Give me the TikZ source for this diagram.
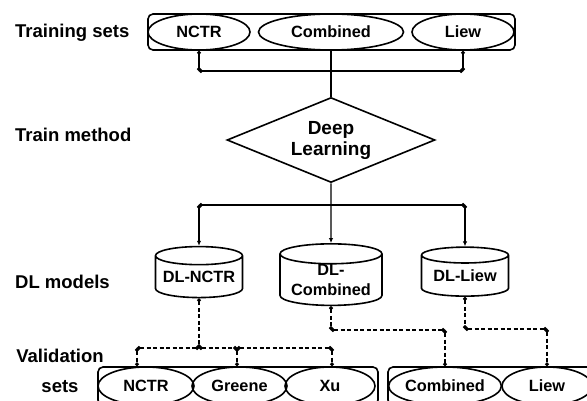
\documentclass[tikz,border=0pt]{standalone}
\usepackage{fontspec}
\setmainfont{Liberation Sans}
\usepackage{tikz}
\usetikzlibrary{arrows.meta, shapes.geometric, calc}
\tikzset{
  lbl/.style={anchor=base west, inner sep=0pt,
    font=\fontsize{18.5}{22}\selectfont\bfseries},
  setbox/.style={draw, rounded corners=5pt, line width=1.6pt, inner sep=0pt},
  setell/.style={ellipse, draw, line width=1.6pt, inner sep=0pt,
    minimum height=36pt, font=\fontsize{16.3}{19}\selectfont\bfseries},
  dlcyl/.style={cylinder, shape border rotate=90, draw, aspect=0.25,
    line width=1.6pt, inner sep=0pt, align=center,
    font=\fontsize{16.3}{19.5}\selectfont\bfseries},
  method/.style={diamond, draw, aspect=2.45, line width=1.6pt,
    inner sep=0pt, minimum width=208pt, minimum height=85pt, align=center,
    font=\fontsize{19}{21}\selectfont\bfseries},
  dotline/.style={line width=1.4pt,
    {Circle[length=3.8pt]}-{Circle[length=3.8pt]}},
  dotarr/.style={line width=1.4pt,
    {Circle[length=3.8pt]}-{Latex[length=5pt,width=4.5pt]}},
  dashline/.style={dotline, dashed, dash pattern=on 4pt off 2.5pt}
}
\begin{document}
\begin{tikzpicture}[x=1pt, y=-1pt]
  \useasboundingbox (0,0) rectangle (587,401);
  \clip (0,0) rectangle (587,401);
  % row labels
  \node[lbl] (ltrain) at (15,38)  {Training sets};
  \node[lbl] (lmeth)  at (15,142) {Train method};
  \node[lbl] (lmodel) at (15,288) {DL models};
  \node[lbl, anchor=base, align=center,
        font=\fontsize{18.5}{30}\selectfont\bfseries] (lval) at (60,392) {Validation\\sets};
  % training sets
  \node[setbox, minimum width=367pt, minimum height=36pt] (trainbox) at (331.5,32) {};
  \node[setell, minimum width=102pt] (nctr) at (199,32) {NCTR};
  \node[setell, minimum width=145pt] (comb) at (331,32) {Combined};
  \node[setell, minimum width=102pt] (liew) at (463,32) {Liew};
  % train method
  \node[method] (deep) at (331,140) {Deep\\Learning};
  % models
  \node[dlcyl, minimum width=87pt, minimum height=51pt] (dlnctr) at (199,277) {DL-NCTR};
  \node[dlcyl, minimum width=102pt, minimum height=60pt] (dlcomb) at (331,280) {DL-\\Combined};
  \node[dlcyl, minimum width=87pt, minimum height=49pt] (dlliew) at (465,276) {DL-Liew};
  % validation sets
  \node[setbox, minimum width=280pt, minimum height=38pt] (valbox) at (238,386) {};
  \node[setbox, minimum width=222pt, minimum height=38pt] (valboxb) at (499,386) {};
  \node[setell, minimum width=96pt, minimum height=38pt] (vnctr) at (146,386) {NCTR};
  \node[setell, minimum width=95pt, minimum height=38pt] (vgreene) at (239.5,386) {Greene};
  \node[setell, minimum width=90pt, minimum height=38pt] (vxu) at (330,386) {Xu};
  \node[setell, minimum width=110pt, minimum height=38pt] (vcomb) at (445,386) {Combined};
  \node[setell, minimum width=90pt, minimum height=38pt] (vliew) at (547,386) {Liew};
  % training sets -> method
  \coordinate (jtl) at (nctr.south |- 0,71);
  \coordinate (jtr) at (liew.south |- 0,71);
  \draw[dotline](nctr.south)--(jtl); \draw[dotline](liew.south)--(jtr);
  \draw[dotline](jtl)--(jtr);
  \draw[line width=1.4pt](comb.south)--(deep.north);
  % method -> models
  \coordinate (jml) at (dlnctr.north |- 0,205);
  \coordinate (jmr) at (dlliew.north |- 0,205);
  \draw[dotline](jml)--(jmr);
  \draw[line width=1.4pt, -{Latex[length=5pt,width=4.5pt]}](deep.south)--(dlcomb.north);
  \draw[dotarr](jml)--(dlnctr.north); \draw[dotarr](jmr)--(dlliew.north);
  % models -> validation sets
  \coordinate (jbm) at (dlnctr.south |- 0,348);
  \coordinate (jba) at (137,348);
  \coordinate (jbb) at (237,348);
  \coordinate (jbc) at (332,348);
  \draw[dashline](dlnctr.south)--(jbm);
  \draw[dashline](jba)--(jbm); \draw[dashline](jbm)--(jbb); \draw[dashline](jbb)--(jbc);
  \draw[dashline](jba)--(jba |- valbox.north);
  \draw[dashline](jbb)--(jbb |- valbox.north);
  \draw[dashline](jbc)--(jbc |- valbox.north);
  \coordinate (jc) at (dlcomb.south |- 0,330);
  \draw[dashline](dlcomb.south)--(jc); \draw[dashline](jc)--(jc -| vcomb.north);
  \draw[dashline](jc -| vcomb.north)--(vcomb.north);
  \coordinate (jl) at (dlliew.south |- 0,329);
  \draw[dashline](dlliew.south)--(jl); \draw[dashline](jl)--(jl -| vliew.north);
  \draw[dashline](jl -| vliew.north)--(vliew.north);
\end{tikzpicture}
\end{document}
